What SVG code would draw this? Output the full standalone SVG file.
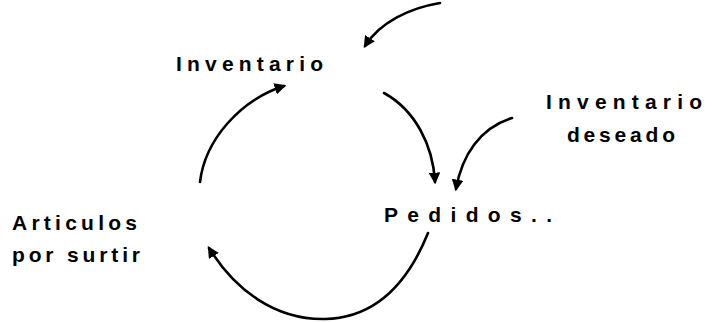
<svg xmlns="http://www.w3.org/2000/svg" width="714" height="322" viewBox="0 0 714 322">
<defs>
<style>
.lbl{font-family:"Liberation Sans",Arial,sans-serif;font-size:21px;font-weight:bold;fill:#000;}
.con{fill:none;stroke:#000;stroke-width:2.6;stroke-linecap:round;}
</style>
<marker id="ah" viewBox="0 0 10 10" refX="8" refY="5" markerWidth="4.5" markerHeight="4.5" orient="auto" markerUnits="strokeWidth">
<path d="M0,0 L10,5 L0,10 z" fill="#000"/>
</marker>
</defs>
<rect width="714" height="322" fill="#fff"/>
<g id="connectors">
<path class="con" marker-end="url(#ah)" d="M440,3 C410,8 380,22 365,46"/>
<path class="con" marker-end="url(#ah)" d="M200,182 C205,140 240,100 284,86"/>
<path class="con" marker-end="url(#ah)" d="M384,93 C415,110 433,145 435,182"/>
<path class="con" marker-end="url(#ah)" d="M512,118 C480,128 462,155 456,189"/>
<path class="con" marker-end="url(#ah)" d="M428,233 C405,290 370,318 325,319 C275,320 235,290 209,248"/>
</g>
<g id="inventario">
<text class="lbl" x="176" y="71" textLength="147" lengthAdjust="spacing">Inventario</text>
</g>
<g id="inventario-deseado">
<text class="lbl" x="546" y="109" textLength="156" lengthAdjust="spacing">Inventario</text>
<text class="lbl" x="567" y="142" textLength="108" lengthAdjust="spacing">deseado</text>
</g>
<g id="pedidos">
<text class="lbl" x="384" y="222" textLength="168" lengthAdjust="spacing">Pedidos..</text>
</g>
<g id="articulos">
<text class="lbl" x="12" y="230" textLength="125" lengthAdjust="spacing">Articulos</text>
<text class="lbl" x="12" y="262" textLength="128" lengthAdjust="spacing">por surtir</text>
</g>
</svg>
